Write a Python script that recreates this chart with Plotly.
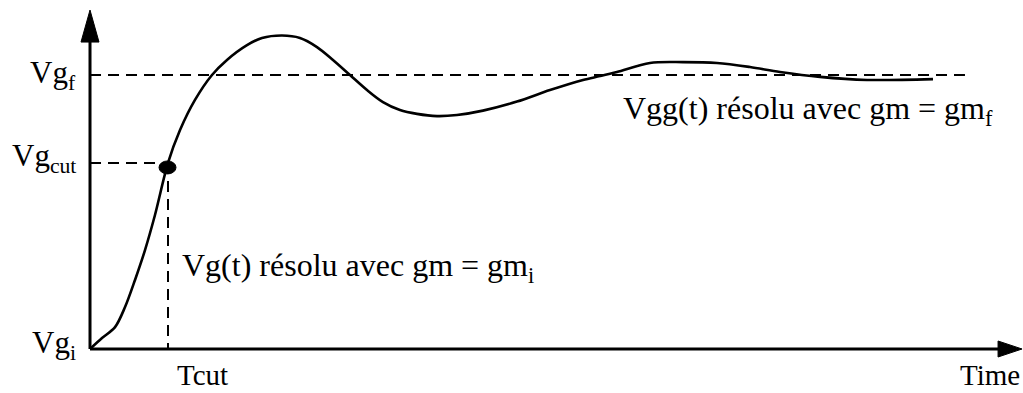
import plotly.graph_objects as go

# Gate voltage response Vg(t): normalised so that Vg_i = 0 and Vg_f = 1,
# time normalised so that Tcut = 1.
t_values = [0.0, 0.154, 0.321, 0.449, 0.577, 0.705, 0.833, 1.0, 1.154, 1.346,
            1.564, 1.756, 2.013, 2.205, 2.462, 2.692, 2.910, 3.115, 3.333, 3.551,
            3.756, 3.974, 4.192, 4.449, 4.705, 5.038, 5.474, 5.897, 6.321, 6.538,
            6.756, 7.179, 7.603, 8.038, 8.462, 8.846, 9.359, 9.962, 10.808]
vg_values = [0.0, 0.040, 0.080, 0.153, 0.252, 0.361, 0.489, 0.679, 0.799, 0.909,
             1.0, 1.055, 1.109, 1.135, 1.144, 1.135, 1.102, 1.055, 1.0, 0.945,
             0.901, 0.872, 0.858, 0.850, 0.854, 0.870, 0.903, 0.945, 0.982, 0.996,
             1.011, 1.044, 1.047, 1.044, 1.029, 1.011, 0.993, 0.982, 0.985]

VG_I = 0.0
VG_F = 1.0
VG_CUT = 0.679
T_CUT = 1.0
T_END = 11.95       # end of the time axis arrow
VG_TOP = 1.237      # end of the voltage axis arrow
T_REF_END = 11.218  # end of the Vg_f reference line

X_RANGE = [-1.154, 11.962]
Y_RANGE = [-0.1606, 1.2737]

FONT = "Liberation Serif"
BLACK = "#000000"
DASH = dict(color=BLACK, width=2, dash="11px,7px")

fig = go.Figure()

# dashed reference lines
fig.add_trace(go.Scatter(x=[0, T_REF_END], y=[VG_F, VG_F], mode="lines",
                         line=DASH, hoverinfo="skip"))
fig.add_trace(go.Scatter(x=[0, T_CUT], y=[VG_CUT, VG_CUT], mode="lines",
                         line=DASH, hoverinfo="skip"))
fig.add_trace(go.Scatter(x=[T_CUT, T_CUT], y=[VG_CUT, VG_I], mode="lines",
                         line=DASH, hoverinfo="skip"))

# response curve
fig.add_trace(go.Scatter(x=t_values, y=vg_values, mode="lines",
                         line=dict(color=BLACK, width=2.6, shape="spline",
                                   smoothing=0.9),
                         hoverinfo="skip"))

shapes = [
    # axes
    dict(type="line", xref="x", yref="y", x0=0, y0=VG_I, x1=T_END - 0.2, y1=VG_I,
         line=dict(color=BLACK, width=3)),
    dict(type="line", xref="x", yref="y", x0=0, y0=VG_I, x1=0, y1=VG_TOP - 0.05,
         line=dict(color=BLACK, width=3)),
    # arrow heads (pixel-sized, anchored at axis ends)
    dict(type="path", xref="x", yref="y", xsizemode="pixel", ysizemode="pixel",
         xanchor=T_END, yanchor=VG_I, path="M 0 0 L -24 8 L -24 -8 Z",
         fillcolor=BLACK, line=dict(color=BLACK, width=1)),
    dict(type="path", xref="x", yref="y", xsizemode="pixel", ysizemode="pixel",
         xanchor=0, yanchor=VG_TOP, path="M 0 0 L -9 -32 L 9 -32 Z",
         fillcolor=BLACK, line=dict(color=BLACK, width=1)),
    # switching point
    dict(type="circle", xref="x", yref="y", xsizemode="pixel", ysizemode="pixel",
         xanchor=T_CUT, yanchor=VG_CUT, x0=-9, x1=8, y0=-11, y1=2,
         fillcolor=BLACK, line=dict(color=BLACK, width=1)),
]

ann_font = dict(family=FONT, size=31, color=BLACK)
label_font = dict(family=FONT, size=32, color=BLACK)
axis_font = dict(family=FONT, size=29, color=BLACK)
annotations = [
    dict(x=-0.16, y=VG_F, text="Vg<sub>f</sub>", xanchor="right", yanchor="middle"),
    dict(x=-0.15, y=VG_CUT + 0.018, text="Vg<sub>cut</sub>", xanchor="right",
         yanchor="middle"),
    dict(x=-0.15, y=VG_I + 0.015, text="Vg<sub>i</sub>", xanchor="right",
         yanchor="middle"),
    dict(x=1.436, y=Y_RANGE[0], text="Tcut", xanchor="center", yanchor="bottom",
         font=axis_font),
    dict(x=11.95, y=-0.095, text="Time", xanchor="right", yanchor="middle",
         font=axis_font),
    dict(x=1.154, y=0.296, text="Vg(t) résolu avec gm = gm<sub>i</sub>",
         xanchor="left", yanchor="middle", font=label_font),
    dict(x=6.81, y=0.87, text="Vgg(t) résolu avec gm = gm<sub>f</sub>",
         xanchor="left", yanchor="middle", font=label_font),
]
for a in annotations:
    a.setdefault("font", ann_font)
    a.update(xref="x", yref="y", showarrow=False)

fig.update_layout(
    width=1023, height=393,
    margin=dict(l=0, r=0, t=0, b=0),
    paper_bgcolor="white", plot_bgcolor="white",
    showlegend=False,
    xaxis=dict(range=X_RANGE, visible=False, fixedrange=True),
    yaxis=dict(range=Y_RANGE, visible=False, fixedrange=True),
    shapes=shapes,
    annotations=annotations,
)

fig.write_html("out.html")
